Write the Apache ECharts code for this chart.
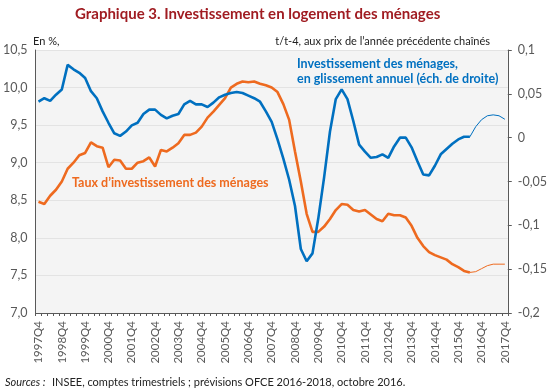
<!DOCTYPE html>
<html><head><meta charset="utf-8">
<script src="https://cdn.jsdelivr.net/npm/echarts@6/dist/echarts.min.js"></script>
<style>html,body{margin:0;padding:0;background:#fff}#c{width:550px;height:392px}</style>
</head><body><div id="c"></div>
<script>
const categories = [
 '1997Q4',
 '1998Q1','1998Q2','1998Q3','1998Q4','1999Q1','1999Q2','1999Q3','1999Q4',
 '2000Q1','2000Q2','2000Q3','2000Q4','2001Q1','2001Q2','2001Q3','2001Q4',
 '2002Q1','2002Q2','2002Q3','2002Q4','2003Q1','2003Q2','2003Q3','2003Q4',
 '2004Q1','2004Q2','2004Q3','2004Q4','2005Q1','2005Q2','2005Q3','2005Q4',
 '2006Q1','2006Q2','2006Q3','2006Q4','2007Q1','2007Q2','2007Q3','2007Q4',
 '2008Q1','2008Q2','2008Q3','2008Q4','2009Q1','2009Q2','2009Q3','2009Q4',
 '2010Q1','2010Q2','2010Q3','2010Q4','2011Q1','2011Q2','2011Q3','2011Q4',
 '2012Q1','2012Q2','2012Q3','2012Q4','2013Q1','2013Q2','2013Q3','2013Q4',
 '2014Q1','2014Q2','2014Q3','2014Q4','2015Q1','2015Q2','2015Q3','2015Q4',
 '2016Q1','2016Q2','2016Q3','2016Q4','2017Q1','2017Q2','2017Q3','2017Q4'
];
// Taux d'investissement des ménages (%), observed 1997Q4-2016Q2
const tauxObs = [
 8.48, 8.45, 8.56, 8.64, 8.75, 8.92, 9.00, 9.10, 9.13, 9.27,
 9.22, 9.20, 8.94, 9.04, 9.03, 8.92, 8.92, 9.00, 9.02, 9.07,
 8.95, 9.17, 9.15, 9.20, 9.26, 9.37, 9.37, 9.40, 9.48, 9.60,
 9.68, 9.77, 9.86, 10.00, 10.05, 10.08, 10.07, 10.08, 10.05, 10.03,
 10.00, 9.94, 9.78, 9.57, 9.15, 8.75, 8.32, 8.08, 8.08, 8.15,
 8.25, 8.37, 8.45, 8.44, 8.37, 8.35, 8.37, 8.31, 8.25, 8.22,
 8.32, 8.30, 8.30, 8.27, 8.16, 8.00, 7.89, 7.81, 7.77, 7.74,
 7.71, 7.65, 7.61, 7.56, 7.54
];
// Prévisions 2016Q2-2017Q4
const tauxPrev = [7.54, 7.55, 7.59, 7.63, 7.65, 7.65, 7.65];
// Investissement des ménages, glissement annuel (éch. de droite)
const glissObs = [
 0.041, 0.045, 0.042, 0.049, 0.055, 0.083, 0.078, 0.074, 0.068, 0.053,
 0.045, 0.030, 0.017, 0.005, 0.002, 0.007, 0.014, 0.017, 0.027, 0.032,
 0.032, 0.026, 0.022, 0.025, 0.027, 0.038, 0.042, 0.038, 0.038, 0.035,
 0.040, 0.046, 0.049, 0.051, 0.052, 0.051, 0.048, 0.045, 0.041, 0.030,
 0.018, -0.002, -0.024, -0.048, -0.078, -0.127, -0.141, -0.132, -0.092, -0.045,
 0.007, 0.044, 0.055, 0.044, 0.019, -0.008, -0.016, -0.023, -0.022, -0.019,
 -0.023, -0.010, 0.000, 0.000, -0.011, -0.027, -0.042, -0.043, -0.032, -0.019,
 -0.013, -0.007, -0.002, 0.001, 0.001
];
const glissPrev = [0.001, 0.0125, 0.0205, 0.025, 0.026, 0.025, 0.021];

const leftMin = 7, leftMax = 10.5, leftStep = 0.5;
const rightMin = -0.2, rightMax = 0.1, rightStep = 0.05;

const FONT = 'Lato';
const BLUE = '#0070C0';
const ORANGE = '#EE6A1F';
const GREY = '#595959';

const n = categories.length;
function pad(arr, start) {
  const out = new Array(n).fill(null);
  arr.forEach((v, i) => { out[start + i] = v; });
  return out;
}
const prevStart = tauxObs.length - 1;

const chart = echarts.init(document.getElementById('c'), null, {renderer: 'canvas'});
chart.setOption({
  animation: false,
  backgroundColor: '#ffffff',
  title: [{
    text: 'Graphique 3. Investissement en logement des ménages',
    left: 70, top: 2,
    textStyle: {color: '#A01C22', fontSize: 15, fontWeight: 'bold', fontFamily: FONT}
  }],
  grid: {left: 33, right: 36, top: 50, bottom: 79, show: true, backgroundColor: '#f4f4f4', borderWidth: 0},
  xAxis: {
    type: 'category', data: categories, boundaryGap: true,
    axisLine: {onZero: false, lineStyle: {color: GREY, width: 1}},
    axisTick: {show: true, interval: 0, length: 3, lineStyle: {color: GREY}},
    axisLabel: {interval: 3, rotate: 90, margin: 8, color: GREY, fontSize: 11.5, fontFamily: FONT}
  },
  yAxis: [{
    type: 'value', min: leftMin, max: leftMax, interval: leftStep, position: 'left',
    axisLine: {show: true, lineStyle: {color: GREY, width: 1}},
    axisTick: {show: false},
    axisLabel: {margin: 8, color: GREY, fontSize: 12.5, fontFamily: FONT,
      formatter: v => v.toFixed(1).replace('.', ',')},
    splitLine: {show: true, lineStyle: {color: '#e3e3e3', width: 1}}
  }, {
    type: 'value', min: rightMin, max: rightMax, interval: rightStep, position: 'right',
    axisLine: {show: true, lineStyle: {color: GREY, width: 1}},
    axisTick: {show: true, length: 4, inside: false, lineStyle: {color: GREY}},
    axisLabel: {margin: 10, color: GREY, fontSize: 12.5, fontFamily: FONT,
      formatter: v => {
        const r = Math.round(v * 100) / 100;
        return String(r).replace('.', ',');
      }},
    splitLine: {show: false}
  }],
  series: [
    {name: 'taux', type: 'line', yAxisIndex: 0, data: pad(tauxObs, 0), symbol: 'none',
     lineStyle: {color: ORANGE, width: 2.6}, connectNulls: false, z: 3},
    {name: 'tauxPrev', type: 'line', yAxisIndex: 0, data: pad(tauxPrev, prevStart), symbol: 'none',
     lineStyle: {color: ORANGE, width: 1}, z: 3},
    {name: 'gliss', type: 'line', yAxisIndex: 1, data: pad(glissObs, 0), symbol: 'none',
     lineStyle: {color: BLUE, width: 2.6}, z: 4},
    {name: 'glissPrev', type: 'line', yAxisIndex: 1, data: pad(glissPrev, prevStart), symbol: 'none',
     lineStyle: {color: BLUE, width: 1}, z: 4}
  ],
  graphic: [
    {type: 'text', left: 33, top: 36, style: {text: 'En %,', fill: '#222', font: '11px Lato'}},
    {type: 'text', right: 60, top: 36, style: {text: 't/t-4, aux prix de l\u2019année précédente chaînés', fill: '#222', font: '11px Lato'}},
    {type: 'text', left: 72, top: 176, style: {text: 'Taux d\u2019investissement des ménages', fill: ORANGE, font: 'bold 12.5px Lato'}},
    {type: 'text', left: 297, top: 56, style: {text: 'Investissement des ménages,\nen glissement annuel (éch. de droite)', fill: BLUE, font: 'bold 12.5px Lato', lineHeight: 15}},
    {type: 'text', left: 5, top: 377, style: {text: 'Sources :', fill: '#222', font: 'italic 11px Lato'}},
    {type: 'text', left: 52, top: 377, style: {text: 'INSEE, comptes trimestriels ; prévisions OFCE 2016-2018, octobre 2016.', fill: '#222', font: '11px Lato'}}
  ]
});
</script>
</body></html>
